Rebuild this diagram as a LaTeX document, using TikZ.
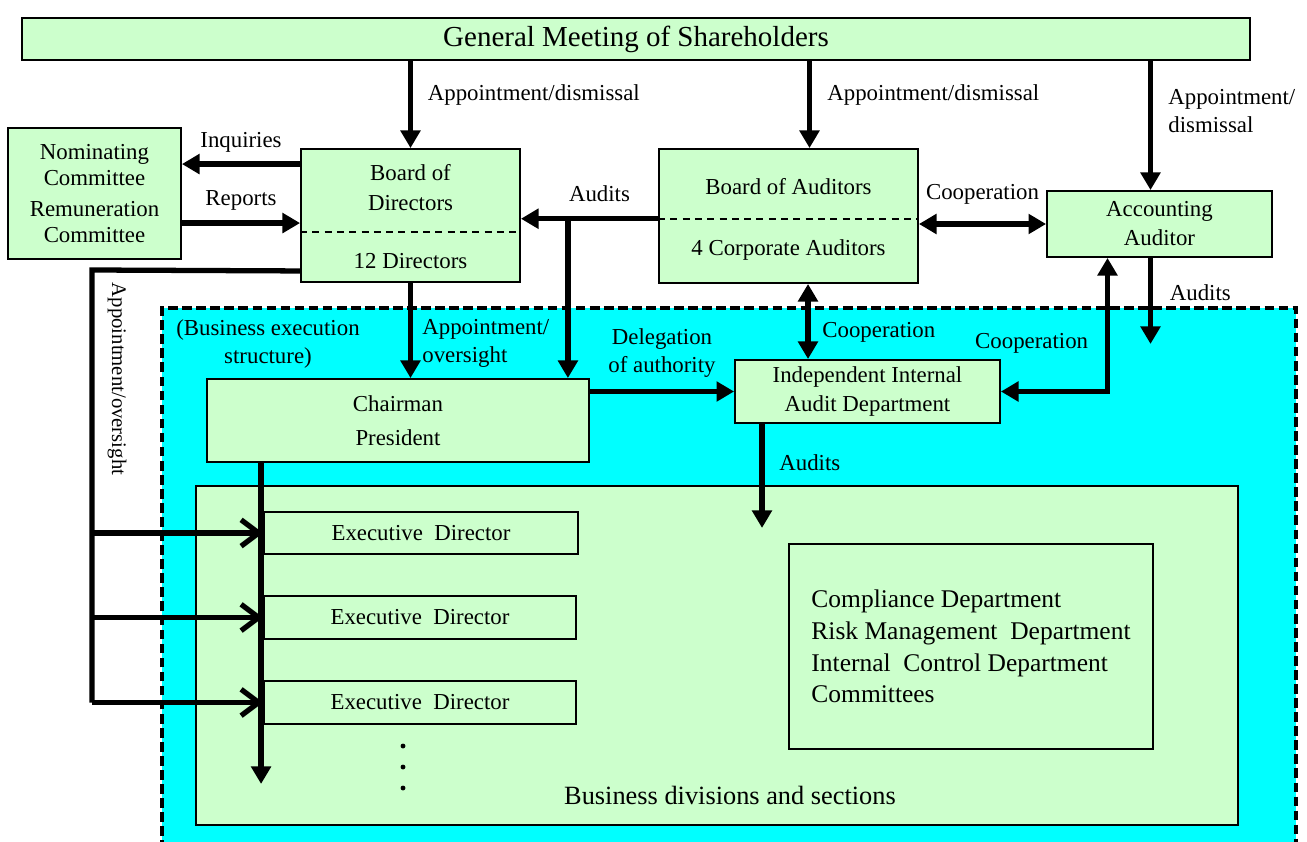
\documentclass[tikz,border=0pt]{standalone}
\usepackage{fontspec}
\setmainfont{Liberation Serif}
\usetikzlibrary{arrows.meta,calc}
\definecolor{boxgreen}{HTML}{CCFFCC}
\definecolor{execcyan}{HTML}{00FFFF}
\tikzset{
  box/.style={draw, fill=boxgreen, line width=1.1pt, align=center, inner sep=2pt,
    font=\fontsize{13}{16.5}\selectfont},
  lbl/.style={align=center, inner sep=1pt, font=\fontsize{13}{16}\selectfont},
  arr/.style={line width=3pt, -{Triangle[length=10pt,width=11pt]}},
  biarr/.style={line width=3pt, {Triangle[length=10pt,width=11pt]}-{Triangle[length=10pt,width=11pt]}},
  openarr/.style={line width=3pt, -{Straight Barb[length=10pt,width=15pt]}},
  plainline/.style={line width=3pt},
  splitline/.style={line width=1.2pt, dash pattern=on 4pt off 3pt},
  execborder/.style={line width=2pt, dash pattern=on 5.5pt off 2.5pt}
}
\begin{document}
\begin{tikzpicture}[x=0.02cm,y=-0.02cm]
  \useasboundingbox (0,0) rectangle (1307,841);
  %% Business execution area
  \fill[execcyan] (162,308) rectangle (1296,850);
  \draw[execborder] (162,850) -- (162,308) -- (1296,308) -- (1296,850);
  \node[lbl] (bexlbl) at (268,344) {(Business execution\\structure)};
  %% Top level bodies
  \node[box, minimum width=24.56cm, minimum height=0.84cm, font=\fontsize{16.5}{19}\selectfont] (gm) at (636,39) {General Meeting of Shareholders};
  \node[box, minimum width=3.46cm, minimum height=2.62cm, font=\fontsize{13}{14.7}\selectfont] (nom) at (94.5,193.5) {Nominating\\Committee\\[3pt]Remuneration\\Committee};
  \node[box, minimum width=4.38cm, minimum height=2.66cm] (bod) at (410.5,215.5) {};
  \draw[splitline] ($(bod.north west)!0.624!(bod.south west)$) -- ($(bod.north east)!0.624!(bod.south east)$);
  \node[lbl, font=\fontsize{13}{17}\selectfont] (bodtop) at ($(bod.north)!0.29!(bod.south)$) {Board of\\Directors};
  \node[lbl] (bodbot) at ($(bod.north)!0.84!(bod.south)$) {12 Directors};
  \node[box, minimum width=5.18cm, minimum height=2.68cm] (boa) at (788.5,216) {};
  \draw[splitline] ($(boa.north west)!0.52!(boa.south west)$) -- ($(boa.north east)!0.52!(boa.south east)$);
  \node[lbl] (boatop) at ($(boa.north)!0.28!(boa.south)$) {Board of Auditors};
  \node[lbl] (boabot) at ($(boa.north)!0.75!(boa.south)$) {4 Corporate Auditors};
  \node[box, minimum width=4.5cm, minimum height=1.32cm] (acc) at (1159.5,224) {Accounting\\Auditor};
  %% Execution side
  \node[box, minimum width=7.64cm, minimum height=1.66cm] (chair) at (398,420.5) {Chairman\\[3pt]President};
  \node[box, minimum width=5.3cm, minimum height=1.26cm] (iiad) at (867.5,391.5) {Independent Internal\\Audit Department};
  \node[box, minimum width=20.84cm, minimum height=6.78cm] (bus) at (717,655.5) {};
  \node[lbl, font=\fontsize{15}{18}\selectfont] (bustxt) at (730,795) {Business divisions and sections};
  \node[box, minimum width=6.28cm, minimum height=0.84cm] (ed1) at (421,533) {Executive\ \ Director};
  \node[box, minimum width=6.24cm, minimum height=0.86cm] (ed2) at (420,617.5) {Executive\ \ Director};
  \node[box, minimum width=6.24cm, minimum height=0.86cm] (ed3) at (420,702.5) {Executive\ \ Director};
  \foreach \dy in {746,767,788} \fill (403,\dy) circle (1.4pt);
  \node[box, minimum width=7.28cm, minimum height=4.1cm, align=left,
    font=\fontsize{14.5}{18}\selectfont] (comp) at (971,646.5) {Compliance Department\\Risk Management\ \ Department\\Internal\ \ Control Department\\Committees};
  %% Appointments from the shareholders
  \draw[arr] (gm.south -| bod.north) -- (bod.north) node[lbl, right=0.26cm, pos=0.39] {Appointment/dismissal};
  \coordinate (gb) at ($(boa.north)+(21,0)$);
  \draw[arr] (gb |- gm.south) -- (gb) node[lbl, right=0.27cm, pos=0.39] {Appointment/dismissal};
  \coordinate (ga) at ($(acc.north)+(-9,0)$);
  \draw[arr] (ga |- gm.south) -- (ga) node[lbl, right=0.27cm, pos=0.39, align=left] {Appointment/\\dismissal};
  %% Committees
  \coordinate (inq) at ($(bod.north west)+(0,16)$);
  \draw[arr] (inq) -- (inq -| nom.east) node[lbl, above=0.15cm, midway] {Inquiries};
  \coordinate (rep) at ($(nom.north east)+(0,96)$);
  \draw[arr] (rep) -- (rep -| bod.west) node[lbl, above=0.17cm, midway] {Reports};
  %% Audits by the auditors
  \coordinate (ba) at ($(boa.north west)!0.52!(boa.south west)$);
  \draw[arr] (ba) -- (ba -| bod.east) node[lbl, above=0.25cm, midway, xshift=0.2cm] {Audits};
  \coordinate (br) at ($(ba -| chair.north east)+(-22,0)$);
  \draw[arr] (br) -- (br |- chair.north);
  \draw[biarr] (boa.east |- acc.west) -- (acc.west) node[lbl, above=0.3cm, midway] {Cooperation};
  %% Board of directors to the execution side
  \draw[arr] (bod.south) -- (bod.south |- chair.north) node[lbl, right=0.15cm, pos=0.64, align=left] {Appointment/\\oversight};
  \draw[arr] (chair.east |- iiad.west) -- (iiad.west) node[lbl, above=0.2cm, midway] {Delegation\\of authority};
  \coordinate (bi) at ($(boa.south)+(19.5,0)$);
  \draw[biarr] (bi) -- (bi |- iiad.north) node[lbl, right=0.2cm, pos=0.64] {Cooperation};
  \coordinate (ai) at ($(acc.south)+(-52,0)$);
  \draw[biarr] (ai) |- (iiad.east) node[lbl, pos=0.5, anchor=east, xshift=-0.3cm, yshift=0.96cm] {Cooperation};
  \coordinate (aa) at ($(acc.south)+(-9,0)$);
  \coordinate (aaend) at ($(aa)+(0,86)$);
  \draw[arr] (aa) -- (aaend) node[lbl, right=0.3cm, pos=0.4] {Audits};
  \coordinate (ia) at ($(iiad.south)+(-105.5,0)$);
  \coordinate (iaend) at ($(ia)+(0,104)$);
  \draw[arr] (ia) -- (iaend) node[lbl, right=0.26cm, pos=0.37] {Audits};
  %% Chairman down the line
  \coordinate (cd) at ($(chair.south west)+(55,0)$);
  \coordinate (cdend) at ($(cd)+(0,321)$);
  \draw[arr] (cd) -- (cdend);
  %% Appointment/oversight of the executive directors
  \coordinate (ao) at ($(bod.south west)+(0,-12)$);
  \coordinate (aol) at (92,270);
  \draw[plainline] (ao) -- (aol) -- (aol |- ed3.west);
  \foreach \ed in {ed1,ed2,ed3}
    \draw[openarr] (aol |- \ed.west) -- (\ed.west);
  \node[lbl, rotate=-90, font=\fontsize{11.8}{14}\selectfont] (aolbl) at (117,379) {Appointment/oversight};
\end{tikzpicture}
\end{document}
